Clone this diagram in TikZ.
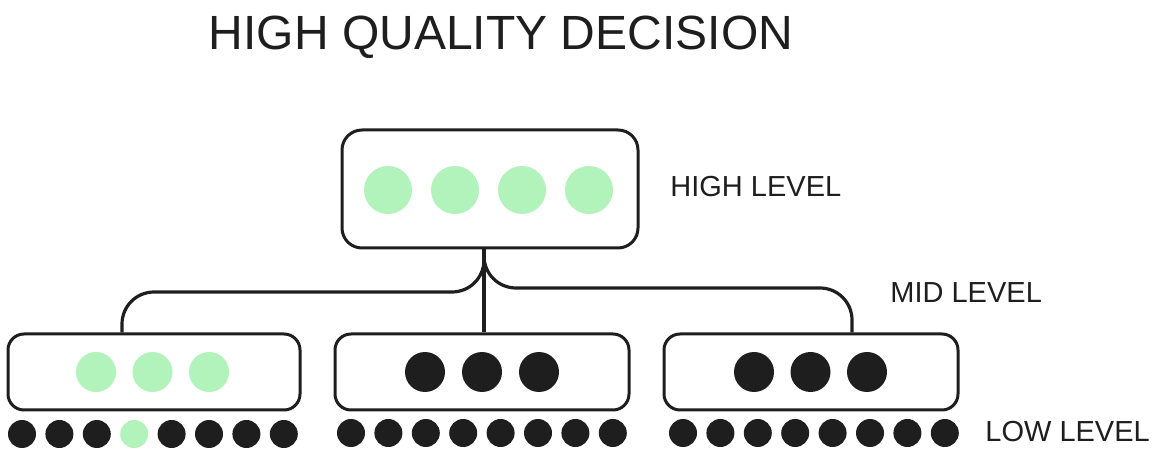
\documentclass[tikz,border=0pt]{standalone}
\usepackage{fontspec}
\setmainfont{Liberation Sans}
\definecolor{tinta}{HTML}{1E1E1E}
\definecolor{verde}{HTML}{B2F2BB}

\begin{document}
\begin{tikzpicture}[x=0.5pt, y=-0.5pt,
  caja/.style={draw=tinta, line width=1.5pt, fill=white},
  grande/.style={circle, inner sep=0pt, minimum size=24pt},
  medio/.style={circle, inner sep=0pt, minimum size=20pt},
  chico/.style={circle, inner sep=0pt, minimum size=14pt},
  etiq/.style={anchor=west, inner sep=0pt, text=tinta, font=\fontsize{14.5}{17}\selectfont},
  wire/.style={draw=tinta, line width=1.6pt, rounded corners=16pt}]
            \useasboundingbox (0,0) rectangle (1156,459);

            \node[text=tinta, font=\fontsize{24}{28}\selectfont] (title) at (501,37) {HIGH QUALITY DECISION};

            \node[caja, rounded corners=10pt, minimum width=148pt, minimum height=59pt] (top) at (490,189) {};
            \node[caja, rounded corners=8pt, minimum width=146pt, minimum height=38pt] (m1) at (154,372) {};
            \node[caja, rounded corners=8pt, minimum width=147pt, minimum height=38pt] (m2) at (482,372) {};
            \node[caja, rounded corners=8pt, minimum width=147pt, minimum height=38pt] (m3) at (811,372) {};

            \coordinate (split) at (484,248);
            \coordinate (lbend) at (122,292);
            \coordinate (rbend) at (852,288);

            \draw[wire] (split) |- (lbend) -- (lbend |- m1.north);
            \draw[wire] (split) |- (rbend) -- (rbend |- m3.north);
            \draw[wire] (split) -- (split |- m2.north);

            \foreach \i in {0,...,3}
                \node[grande, fill=verde] (t\i) at ({388+67*\i},190) {};
            \foreach \i in {0,...,2} {
                \node[medio, fill=verde] (a\i) at ({96+56.5*\i},372) {};
                \node[medio, fill=tinta] (b\i) at ({425+57*\i},372) {};
                \node[medio, fill=tinta] (c\i) at ({754+56.5*\i},372) {};
            }
            % la cuarta bolita de abajo a la izquierda es verde
            \foreach \i/\col in {0/tinta,1/tinta,2/tinta,3/verde,4/tinta,5/tinta,6/tinta,7/tinta} {
                \node[chico, fill=\col] (x\i) at ({22+37.4*\i},434) {};
                \node[chico, fill=tinta] (y\i) at ({351+37.4*\i},433) {};
                \node[chico, fill=tinta] (z\i) at ({683+37.4*\i},433) {};
            }

            \node[etiq] (hl) at (670,187) {HIGH LEVEL};
            \node[etiq] (ml) at (890,293) {MID LEVEL};
            \node[etiq] (ll) at (985,432) {LOW LEVEL};
        \end{tikzpicture}
\end{document}
